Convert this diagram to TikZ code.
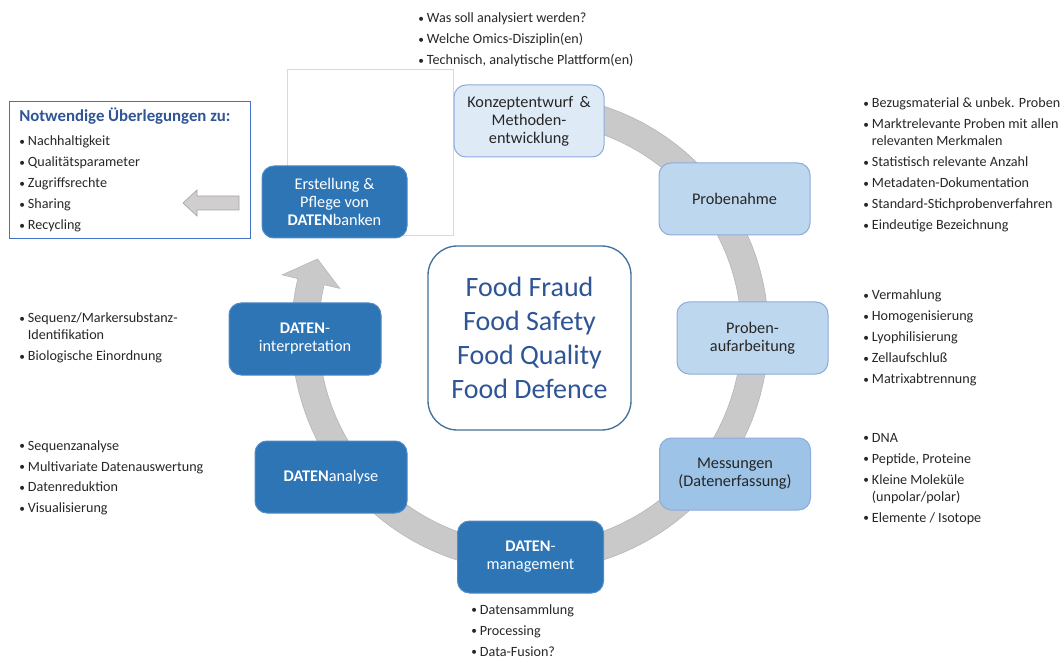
\documentclass[tikz,border=0pt]{standalone}
\usepackage{fontspec}
\setmainfont{Carlito}
\definecolor{tdark}{HTML}{262626}
\definecolor{ctitle}{HTML}{2F5597}
\definecolor{cpale}{HTML}{DEEBF7}
\definecolor{clight}{HTML}{BDD7EE}
\definecolor{cmid}{HTML}{9DC3E6}
\definecolor{clightb}{HTML}{8FAADC}
\definecolor{cdark}{HTML}{2E75B6}
\definecolor{cdarkb}{HTML}{4F8AC9}
\definecolor{arcgray}{HTML}{C9C9C9}
\definecolor{arcline}{HTML}{B8B8B8}
\definecolor{framegray}{HTML}{D9D9D9}
\definecolor{centerb}{HTML}{41719C}
\definecolor{leftb}{HTML}{4472C4}
\definecolor{smallarrow}{HTML}{D0CECE}
\definecolor{smallarrowb}{HTML}{A6A6A6}
\newcommand\bul{\makebox[6.5pt][l]{\fontsize{8.5}{8.5}\selectfont\raisebox{0.6pt}{•}}}
\begin{document}
\begin{tikzpicture}[x=0.75pt,y=-0.75pt,
  box/.style={rounded corners=9pt, minimum width=112.5pt, minimum height=54pt, align=center, inner sep=2pt,
    font=\fontsize{12.2}{13.5}\selectfont, line width=0.75pt},
  palebox/.style={box, fill=cpale, draw=clightb, text=tdark},
  lightbox/.style={box, fill=clight, draw=clightb, text=tdark},
  midbox/.style={box, fill=cmid, draw=clightb, text=tdark},
  darkbox/.style={box, fill=cdark, draw=cdarkb, text=white},
  list/.style={anchor=base west, inner sep=0pt, text=tdark, font=\fontsize{10.6}{12.75}\selectfont},
]
\useasboundingbox (0,0) rectangle (1064,659);

% empty frame
\node[draw=framegray, line width=0.6pt, minimum width=124.5pt, minimum height=124.5pt, anchor=north west, inner sep=0pt] (frame) at (287,69) {};

% circular arrow
\def\cx{530}\def\cy{333}
\filldraw[fill=arcgray, draw=arcline, line width=0.5pt]
  plot[domain=-80:193.2, samples=90] ({\cx+238.5*cos(\x)},{\cy+238.5*sin(\x)})
  -- ({\cx+254.5*cos(193.2)},{\cy+254.5*sin(193.2)})
  -- ({\cx+225*cos(199.2)},{\cy+225*sin(199.2)})
  -- ({\cx+195.5*cos(193.2)},{\cy+195.5*sin(193.2)})
  -- plot[domain=193.2:-80, samples=90] ({\cx+211.5*cos(\x)},{\cy+211.5*sin(\x)})
  -- cycle;

% process boxes
\node[palebox] (konz) at (529,121) {Konzeptentwurf \,\&\\Methoden-\\entwicklung};
\node[lightbox, minimum width=113.25pt] (probe) at (734.5,199) {Probenahme};
\node[lightbox, minimum width=113.25pt] (aufarb) at (752.5,338) {Proben-\\aufarbeitung};
\node[midbox, minimum width=113.25pt] (mess) at (735,474) {Messungen\\(Datenerfassung)};
\node[darkbox, minimum width=109.5pt] (mgmt) at (530.5,557) {\textbf{DATEN}-\\management};
\node[darkbox, minimum width=114pt] (anal) at (331,477) {\textbf{DATEN}analyse};
\node[darkbox, minimum width=114pt] (interp) at (305,339) {\textbf{DATEN}-\\interpretation};
\node[darkbox, minimum width=108.75pt] (erst) at (334.5,202) {Erstellung \&\\Pflege von\\\textbf{DATEN}banken};

% center box
\node[draw=centerb, line width=1pt, fill=white, rounded corners=22pt, minimum width=152.25pt, minimum height=138pt,
  align=center, text=ctitle, font=\fontsize{21}{25.5}\selectfont] (center) at (529.5,338)
  {Food Fraud\\Food Safety\\Food Quality\\Food Defence};

% left considerations box
\node[draw=leftb, line width=0.8pt, minimum width=180.75pt, minimum height=102.75pt, anchor=north west, inner sep=0pt] (nbox) at (9,101) {};
\node[anchor=base west, inner sep=0pt, text=ctitle, font=\fontsize{12.6}{13}\selectfont\bfseries] (nhead) at (19,121.5) {Notwendige Überlegungen zu:};
\node[list] (nlist) at (19,146) {\begin{tabular}[t]{@{}l@{}l@{}}
\bul & Nachhaltigkeit\\[3pt]
\bul & Qualitätsparameter\\[3pt]
\bul & Zugriffsrechte\\[3pt]
\bul & Sharing\\[3pt]
\bul & Recycling
\end{tabular}};

% small arrow from Erstellung to box
\filldraw[fill=smallarrow, draw=smallarrowb, line width=0.5pt]
  (239,196) coordinate (sa1) -- (197,196) -- (197,190) -- (183,203) coordinate (satip) -- (197,216) -- (197,210) -- (239,210) -- cycle;

% lists
\node[list] (ltop) at (418,23) {\begin{tabular}[t]{@{}l@{}l@{}}
\bul & Was soll analysiert werden?\\[3pt]
\bul & Welche Omics-Disziplin(en)\\[3pt]
\bul & Technisch, analytische Plattform(en)
\end{tabular}};

\node[list] (lprobe) at (863,108) {\begin{tabular}[t]{@{}l@{}l@{}}
\bul & Bezugsmaterial \& unbek. Proben\\[3pt]
\bul & Marktrelevante Proben mit allen\\
 & relevanten Merkmalen\\[3pt]
\bul & Statistisch relevante Anzahl\\[3pt]
\bul & Metadaten-Dokumentation\\[3pt]
\bul & Standard-Stichprobenverfahren\\[3pt]
\bul & Eindeutige Bezeichnung
\end{tabular}};

\node[list] (laufarb) at (863,300) {\begin{tabular}[t]{@{}l@{}l@{}}
\bul & Vermahlung\\[3pt]
\bul & Homogenisierung\\[3pt]
\bul & Lyophilisierung\\[3pt]
\bul & Zellaufschluß\\[3pt]
\bul & Matrixabtrennung
\end{tabular}};

\node[list] (lmess) at (863,442) {\begin{tabular}[t]{@{}l@{}l@{}}
\bul & DNA\\[3pt]
\bul & Peptide, Proteine\\[3pt]
\bul & Kleine Moleküle\\
 & (unpolar/polar)\\[3pt]
\bul & Elemente / Isotope
\end{tabular}};

\node[list] (lmgmt) at (471,614) {\begin{tabular}[t]{@{}l@{}l@{}}
\bul & Datensammlung\\[3pt]
\bul & Processing\\[3pt]
\bul & Data-Fusion?
\end{tabular}};

\node[list] (linterp) at (19,323) {\begin{tabular}[t]{@{}l@{}l@{}}
\bul & Sequenz/Markersubstanz-\\
 & Identifikation\\[3pt]
\bul & Biologische Einordnung
\end{tabular}};

\node[list] (lanal) at (19,450) {\begin{tabular}[t]{@{}l@{}l@{}}
\bul & Sequenzanalyse\\[3pt]
\bul & Multivariate Datenauswertung\\[3pt]
\bul & Datenreduktion\\[3pt]
\bul & Visualisierung
\end{tabular}};
\end{tikzpicture}
\end{document}
